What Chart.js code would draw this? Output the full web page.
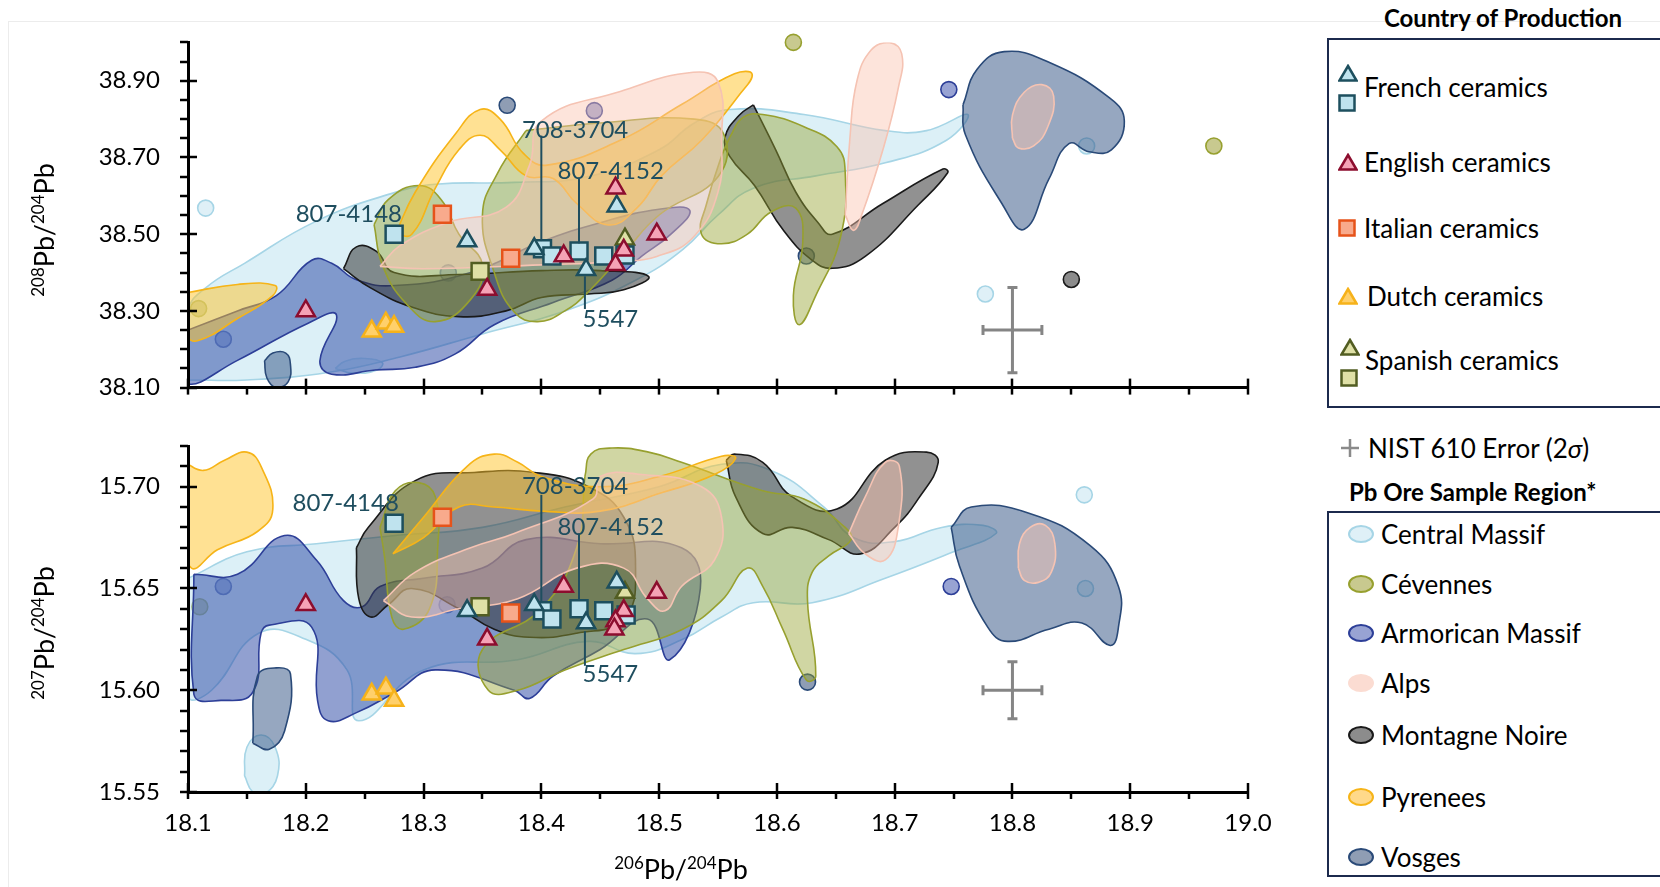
<!DOCTYPE html>
<html>
<head>
<meta charset="utf-8">
<script src="https://cdn.jsdelivr.net/npm/chart.js@4.4.0/dist/chart.umd.min.js"></script>
<style>
  body { margin: 0; width: 1660px; height: 887px; overflow: hidden; background: #fff; position: relative; font-family: Lato, sans-serif; color: #000; }
  .frame { position: absolute; left: 8px; top: 21px; width: 1700px; height: 900px; border-left: 1px solid #ececec; border-top: 1px solid #ececec; }
  canvas { position: absolute; left: 0; }
  .ytitle { position: absolute; transform: translate(-50%, -50%) rotate(-90deg); white-space: nowrap; font-size: 27px; }
  .xtitle { position: absolute; transform: translate(-50%, -50%); white-space: nowrap; font-size: 27px; }
  .sup { font-size: 17px; vertical-align: 10px; }
  .box { position: absolute; border: 2.5px solid #1c2a4d; width: 400px; }
  .lt { position: absolute; font-weight: bold; font-size: 24px; line-height: 28px; white-space: nowrap; }
  .li { position: absolute; font-size: 26px; line-height: 30px; white-space: nowrap; }
  .ic { position: absolute; }
</style>
</head>
<body>
<div class="frame"></div>
<canvas id="topChart" width="1300" height="430" style="top:0"></canvas>
<canvas id="bottomChart" width="1300" height="487" style="top:400px"></canvas>
<div class="ytitle" style="left:43px;top:230px"><span class="sup">208</span>Pb/<span class="sup">204</span>Pb</div>
<div class="ytitle" style="left:43px;top:633px"><span class="sup">207</span>Pb/<span class="sup">204</span>Pb</div>
<div class="xtitle" style="left:681px;top:868px"><span class="sup">206</span>Pb/<span class="sup">204</span>Pb</div>
<div id="legend"></div>
<script>
"use strict";

// ---- axis tick labels ----
const xLabels = ['18.1', '18.2', '18.3', '18.4', '18.5', '18.6', '18.7', '18.8', '18.9', '19.0'];
const topYLabels = ['38.10', '38.30', '38.50', '38.70', '38.90'];
const bottomYLabels = ['15.55', '15.60', '15.65', '15.70'];

// ---- ceramics, 206/204 vs 208/204 ----
const frenchTriTop = [[18.337, 38.482], [18.394, 38.462], [18.438, 38.407], [18.464, 38.573]];
const frenchSqTop = [[18.275, 38.50], [18.401, 38.462], [18.409, 38.443], [18.432, 38.456], [18.453, 38.443], [18.471, 38.446]];
const englishTop = [[18.20, 38.30], [18.354, 38.356], [18.419, 38.443], [18.463, 38.62], [18.47, 38.458], [18.463, 38.42], [18.498, 38.50]];
const italianTop = [[18.316, 38.552], [18.374, 38.437]];
const dutchTop = [[18.256, 38.247], [18.268, 38.268], [18.275, 38.259]];
const spanishTriTop = [[18.471, 38.487]];
const spanishSqTop = [[18.348, 38.403]];

// ---- ceramics, 206/204 vs 207/204 ----
const frenchTriBot = [[18.337, 15.639], [18.394, 15.642], [18.438, 15.633], [18.464, 15.653]];
const frenchSqBot = [[18.275, 15.682], [18.401, 15.639], [18.409, 15.635], [18.432, 15.640], [18.453, 15.639], [18.472, 15.637]];
const englishBot = [[18.20, 15.642], [18.354, 15.625], [18.419, 15.651], [18.47, 15.639], [18.463, 15.634], [18.462, 15.630], [18.498, 15.648]];
const italianBot = [[18.316, 15.685], [18.374, 15.638]];
const dutchBot = [[18.256, 15.598], [18.268, 15.601], [18.275, 15.595]];
const spanishTriBot = [[18.471, 15.648]];
const spanishSqBot = [[18.348, 15.641]];

// ---- single ore samples ----
const cmDotsTop = [[18.115, 38.568], [18.863, 38.73], [18.777, 38.344]];
const cevDotsTop = [[18.109, 38.306], [18.614, 39.0], [18.971, 38.73]];
const armDotsTop = [[18.130, 38.226], [18.746, 38.877], [18.445, 38.822], [18.321, 38.399]];
const vosDotsTop = [[18.371, 38.836], [18.625, 38.443]];
const mnDotsTop = [[18.85, 38.382]];
const cmDotsBot = [[18.861, 15.696], [18.862, 15.65]];
const cevDotsBot = [[18.11, 15.641]];
const armDotsBot = [[18.13, 15.651], [18.32, 15.642], [18.748, 15.651]];
const vosDotsBot = [[18.626, 15.604]];

// ---- ore fields (outline vertices), top panel ----
const topCM = [[18.10, 38.12], [18.10, 38.30], [18.115, 38.36], [18.148, 38.424], [18.209, 38.534], [18.276, 38.609], [18.31, 38.63], [18.377, 38.635], [18.44, 38.65], [18.50, 38.72], [18.53, 38.79], [18.56, 38.825], [18.623, 38.812], [18.692, 38.77], [18.727, 38.77], [18.762, 38.812], [18.744, 38.745], [18.692, 38.686], [18.633, 38.652], [18.58, 38.62], [18.55, 38.55], [18.52, 38.46], [18.48, 38.38], [18.42, 38.30], [18.35, 38.24], [18.28, 38.18], [18.22, 38.14], [18.15, 38.12]];
const topCMSmall = [[18.225, 38.15], [18.233, 38.168], [18.25, 38.176], [18.265, 38.165], [18.26, 38.145], [18.24, 38.138]];
const topArm = [[18.100, 38.25], [18.142, 38.30], [18.175, 38.34], [18.205, 38.432], [18.222, 38.424], [18.243, 38.381], [18.276, 38.366], [18.34, 38.40], [18.40, 38.48], [18.45, 38.53], [18.50, 38.565], [18.526, 38.562], [18.51, 38.50], [18.485, 38.442], [18.46, 38.38], [18.41, 38.322], [18.36, 38.264], [18.327, 38.188], [18.293, 38.153], [18.259, 38.146], [18.222, 38.135], [18.212, 38.17], [18.226, 38.29], [18.202, 38.268], [18.142, 38.171], [18.100, 38.11]];
const topVos = [[18.758, 38.837], [18.77, 38.93], [18.793, 38.976], [18.831, 38.948], [18.883, 38.854], [18.895, 38.795], [18.884, 38.72], [18.865, 38.715], [18.848, 38.736], [18.831, 38.644], [18.81, 38.513], [18.791, 38.58], [18.76, 38.76]];
const topVosSmall = [[18.165, 38.17], [18.172, 38.19], [18.183, 38.19], [18.187, 38.16], [18.185, 38.115], [18.175, 38.10], [18.167, 38.125]];
const topMNLeft = [[18.232, 38.41], [18.243, 38.467], [18.26, 38.455], [18.275, 38.40], [18.33, 38.395], [18.40, 38.405], [18.45, 38.405], [18.491, 38.39], [18.47, 38.355], [18.44, 38.344], [18.40, 38.335], [18.37, 38.30], [18.33, 38.285], [18.29, 38.31], [18.255, 38.36]];
const topMNRight = [[18.58, 38.837], [18.599, 38.72], [18.616, 38.61], [18.635, 38.53], [18.647, 38.50], [18.69, 38.58], [18.741, 38.67], [18.745, 38.66], [18.72, 38.576], [18.675, 38.442], [18.647, 38.411], [18.63, 38.432], [18.606, 38.508], [18.581, 38.627], [18.56, 38.703], [18.556, 38.753], [18.568, 38.81]];
const topCevLeft = [[18.258, 38.525], [18.27, 38.59], [18.296, 38.627], [18.315, 38.59], [18.33, 38.50], [18.35, 38.42], [18.34, 38.33], [18.31, 38.272], [18.285, 38.32], [18.265, 38.42]];
const topCevMid = [[18.387, 38.77], [18.45, 38.79], [18.53, 38.80], [18.555, 38.76], [18.55, 38.65], [18.50, 38.55], [18.47, 38.45], [18.44, 38.35], [18.42, 38.30], [18.397, 38.272], [18.377, 38.297], [18.36, 38.40], [18.35, 38.55], [18.363, 38.66]];
const topCevRight = [[18.56, 38.753], [18.571, 38.804], [18.588, 38.812], [18.623, 38.78], [18.651, 38.728], [18.658, 38.66], [18.654, 38.492], [18.633, 38.34], [18.619, 38.264], [18.614, 38.34], [18.622, 38.48], [18.616, 38.568], [18.595, 38.558], [18.575, 38.50], [18.553, 38.475], [18.536, 38.50], [18.54, 38.576], [18.553, 38.703]];
const topPyrLeft = [[18.10, 38.348], [18.142, 38.369], [18.174, 38.366], [18.172, 38.34], [18.142, 38.28], [18.108, 38.222], [18.098, 38.24], [18.097, 38.30]];
const topPyrBig = [[18.276, 38.50], [18.293, 38.61], [18.327, 38.761], [18.348, 38.825], [18.365, 38.80], [18.385, 38.71], [18.405, 38.68], [18.467, 38.745], [18.519, 38.838], [18.564, 38.918], [18.579, 38.917], [18.568, 38.863], [18.536, 38.745], [18.502, 38.652], [18.481, 38.568], [18.457, 38.524], [18.43, 38.58], [18.41, 38.645], [18.387, 38.652], [18.365, 38.72], [18.348, 38.758], [18.33, 38.72], [18.31, 38.62], [18.29, 38.50]];
const topAlpsBig = [[18.263, 38.416], [18.28, 38.47], [18.32, 38.53], [18.37, 38.57], [18.39, 38.68], [18.40, 38.795], [18.467, 38.872], [18.529, 38.922], [18.55, 38.897], [18.553, 38.745], [18.55, 38.61], [18.529, 38.492], [18.498, 38.442], [18.467, 38.429], [18.40, 38.42], [18.30, 38.41]];
const topAlpsTall = [[18.658, 38.55], [18.662, 38.75], [18.668, 38.90], [18.68, 38.98], [18.695, 39.0], [18.706, 38.97], [18.703, 38.88], [18.69, 38.72], [18.672, 38.55], [18.665, 38.51]];
const topAlpsSmall = [[18.80, 38.75], [18.80, 38.81], [18.81, 38.87], [18.825, 38.89], [18.835, 38.86], [18.83, 38.78], [18.818, 38.73], [18.805, 38.725]];

// ---- ore fields, bottom panel ----
const botCM = [[18.10, 15.655], [18.15, 15.668], [18.209, 15.672], [18.276, 15.676], [18.35, 15.68], [18.42, 15.69], [18.50, 15.70], [18.553, 15.711], [18.595, 15.708], [18.64, 15.69], [18.665, 15.675], [18.70, 15.673], [18.74, 15.68], [18.775, 15.681], [18.786, 15.677], [18.75, 15.668], [18.692, 15.655], [18.63, 15.643], [18.58, 15.643], [18.553, 15.636], [18.52, 15.625], [18.48, 15.618], [18.44, 15.624], [18.38, 15.615], [18.30, 15.61], [18.245, 15.585], [18.235, 15.61], [18.20, 15.625], [18.16, 15.628], [18.12, 15.60], [18.10, 15.597]];
const botCMSmall = [[18.148, 15.558], [18.15, 15.572], [18.162, 15.578], [18.174, 15.572], [18.176, 15.558], [18.165, 15.549], [18.155, 15.55]];
const botArm = [[18.105, 15.657], [18.142, 15.657], [18.182, 15.676], [18.209, 15.664], [18.232, 15.644], [18.248, 15.641], [18.263, 15.651], [18.30, 15.655], [18.35, 15.66], [18.387, 15.674], [18.45, 15.672], [18.519, 15.67], [18.535, 15.65], [18.509, 15.615], [18.49, 15.635], [18.45, 15.62], [18.41, 15.607], [18.39, 15.596], [18.377, 15.60], [18.31, 15.61], [18.276, 15.599], [18.243, 15.589], [18.219, 15.585], [18.21, 15.595], [18.205, 15.631], [18.169, 15.632], [18.162, 15.628], [18.155, 15.599], [18.128, 15.595], [18.105, 15.598]];
const botVosTall = [[18.155, 15.574], [18.159, 15.607], [18.175, 15.611], [18.187, 15.608], [18.182, 15.58], [18.169, 15.571]];
const botVosRight = [[18.748, 15.68], [18.765, 15.69], [18.814, 15.687], [18.866, 15.671], [18.89, 15.651], [18.89, 15.631], [18.883, 15.622], [18.859, 15.633], [18.831, 15.63], [18.796, 15.624], [18.779, 15.631], [18.755, 15.661]];
const botMN = [[18.243, 15.67], [18.253, 15.68], [18.293, 15.703], [18.343, 15.707], [18.394, 15.707], [18.44, 15.70], [18.47, 15.685], [18.48, 15.66], [18.47, 15.635], [18.43, 15.628], [18.39, 15.626], [18.36, 15.63], [18.33, 15.64], [18.29, 15.65], [18.27, 15.642], [18.255, 15.636], [18.245, 15.645]];
const botMNRight = [[18.557, 15.713], [18.564, 15.716], [18.588, 15.712], [18.613, 15.695], [18.651, 15.689], [18.692, 15.713], [18.727, 15.717], [18.737, 15.712], [18.72, 15.694], [18.70, 15.68], [18.671, 15.667], [18.644, 15.674], [18.613, 15.68], [18.588, 15.677], [18.565, 15.695]];
const botCevLeft = [[18.263, 15.68], [18.276, 15.698], [18.296, 15.702], [18.31, 15.695], [18.312, 15.67], [18.305, 15.64], [18.283, 15.63], [18.273, 15.636], [18.267, 15.665]];
const botCevMid = [[18.437, 15.705], [18.442, 15.716], [18.46, 15.719], [18.491, 15.717], [18.519, 15.712], [18.588, 15.698], [18.623, 15.694], [18.658, 15.68], [18.663, 15.674], [18.644, 15.666], [18.63, 15.658], [18.626, 15.644], [18.633, 15.607], [18.625, 15.605], [18.605, 15.63], [18.588, 15.651], [18.575, 15.66], [18.553, 15.644], [18.52, 15.63], [18.47, 15.62], [18.42, 15.61], [18.38, 15.60], [18.355, 15.60], [18.35, 15.62], [18.40, 15.64], [18.43, 15.67]];
const botPyrLeft = [[18.097, 15.712], [18.113, 15.708], [18.131, 15.713], [18.15, 15.717], [18.162, 15.71], [18.172, 15.689], [18.159, 15.678], [18.125, 15.669], [18.103, 15.66], [18.097, 15.68]];
const botPyrBand = [[18.274, 15.667], [18.30, 15.685], [18.337, 15.71], [18.36, 15.716], [18.38, 15.712], [18.40, 15.705], [18.45, 15.70], [18.50, 15.705], [18.553, 15.715], [18.565, 15.714], [18.547, 15.706], [18.502, 15.697], [18.45, 15.688], [18.40, 15.688], [18.36, 15.69], [18.33, 15.69], [18.30, 15.675]];
const botAlps = [[18.266, 15.644], [18.293, 15.658], [18.34, 15.67], [18.377, 15.677], [18.444, 15.694], [18.45, 15.705], [18.485, 15.706], [18.536, 15.70], [18.553, 15.685], [18.547, 15.664], [18.519, 15.651], [18.505, 15.639], [18.49, 15.645], [18.47, 15.66], [18.43, 15.66], [18.38, 15.645], [18.33, 15.64], [18.29, 15.636]];
const botAlpsRight = [[18.661, 15.677], [18.675, 15.695], [18.692, 15.712], [18.704, 15.71], [18.703, 15.68], [18.692, 15.664], [18.675, 15.667]];
const botAlpsSmall = [[18.805, 15.66], [18.806, 15.672], [18.815, 15.68], [18.828, 15.681], [18.836, 15.672], [18.833, 15.658], [18.822, 15.653], [18.81, 15.654]];

// NIST 610 error: x, y, ±x, ±y
const nistTop = [18.80, 38.25, 0.025, 0.111];
const nistBot = [18.80, 15.60, 0.025, 0.014];

// sample callouts: text, label x, label y, align, [line x, line y1, line y2]
const topNotes = [
    { text: '807-4148', x: 18.2817, y: 38.553, align: 'right' },
    { text: '708-3704', x: 18.3835, y: 38.771, align: 'left', line: [18.40, 38.757, 38.482] },
    { text: '807-4152', x: 18.4137, y: 38.665, align: 'left', line: [18.432, 38.647, 38.476] },
    { text: '5547', x: 18.435, y: 38.277, align: 'left', line: [18.437, 38.39, 38.305] }
];
const bottomNotes = [
    { text: '807-4148', x: 18.279, y: 15.692, align: 'right' },
    { text: '708-3704', x: 18.3835, y: 15.700, align: 'left', line: [18.40, 15.696, 15.643] },
    { text: '807-4152', x: 18.4137, y: 15.680, align: 'left', line: [18.432, 15.677, 15.644] },
    { text: '5547', x: 18.435, y: 15.608, align: 'left', line: [18.437, 15.629, 15.612] }
];

const countryNames = ['French ceramics', 'English ceramics', 'Italian ceramics', 'Dutch ceramics', 'Spanish ceramics'];
const regionNames = ['Central Massif', 'Cévennes', 'Armorican Massif', 'Alps', 'Montagne Noire', 'Pyrenees', 'Vosges'];

// colours
const C = {
    french: ['#bfe3ee', '#1d4f5e'], english: ['#f5a3b6', '#8c0d2e'], italian: ['#f8aa8c', '#e6531a'],
    dutch: ['#ffd06b', '#f6b21a'], spanish: ['#dfe0a6', '#525d22']
};
const R = {
    cm: ['rgba(185,225,240,0.5)', '#a6d5e6', '#dff0f7'],
    cev: ['rgba(150,165,50,0.45)', '#97a02f', '#c8c98f'],
    arm: ['rgba(45,72,165,0.52)', '#2d3f98', '#98a3d3'],
    alps: ['rgba(250,195,175,0.45)', '#f5c3b3', '#fbdcd2'],
    mn: ['rgba(45,45,45,0.52)', '#1a1a1a', '#8c8c8c'],
    pyr: ['rgba(255,195,40,0.5)', '#f6b418', '#ffd98a'],
    vos: ['rgba(45,80,130,0.5)', '#2a4a78', '#8f9db4']
};

const toXY = arr => arr.map(p => ({ x: p[0], y: p[1] }));

function field(pts, col, order) {
    const data = toXY(pts.concat([pts[0]]));
    return { data, showLine: true, fill: 'shape', tension: 0.45, backgroundColor: col[0], borderColor: col[1], borderWidth: 1.6, pointRadius: 0, order };
}
function dots(pts, col, order) {
    return { data: toXY(pts), pointStyle: 'circle', pointRadius: 8, backgroundColor: col[2], borderColor: col[1], borderWidth: 1.6, order, clip: false };
}
function marks(pts, col, style, order) {
    return { data: toXY(pts), pointStyle: style, pointRadius: style === 'rect' ? 12 : 10.5, backgroundColor: col[0], borderColor: col[1], borderWidth: 2.5, order };
}

const topSets = [
    dots(cmDotsTop, R.cm, 100), dots(cevDotsTop, R.cev, 100), dots(armDotsTop, R.arm, 100), dots(vosDotsTop, R.vos, 100), dots(mnDotsTop, R.mn, 100),
    field(topCM, R.cm, 90), field(topCMSmall, R.cm, 90),
    field(topArm, R.arm, 80),
    field(topVos, R.vos, 70), field(topVosSmall, R.vos, 70),
    field(topMNLeft, R.mn, 60), field(topMNRight, R.mn, 60),
    field(topCevLeft, R.cev, 50), field(topCevMid, R.cev, 50), field(topCevRight, R.cev, 50),
    field(topPyrLeft, R.pyr, 40), field(topPyrBig, R.pyr, 40),
    field(topAlpsBig, R.alps, 30), field(topAlpsTall, R.alps, 30), field(topAlpsSmall, R.alps, 30),
    marks(dutchTop, C.dutch, 'triangle', 5), marks(italianTop, C.italian, 'rect', 4),
    marks(spanishSqTop, C.spanish, 'rect', 4), marks(spanishTriTop, C.spanish, 'triangle', 3),
    marks(frenchSqTop, C.french, 'rect', 2), marks(frenchTriTop, C.french, 'triangle', 1),
    marks(englishTop, C.english, 'triangle', 0)
];

const bottomSets = [
    dots(cmDotsBot, R.cm, 100), dots(cevDotsBot, R.cev, 100), dots(armDotsBot, R.arm, 100), dots(vosDotsBot, R.vos, 100),
    field(botCM, R.cm, 90), field(botCMSmall, R.cm, 90),
    field(botArm, R.arm, 80),
    field(botVosTall, R.vos, 70), field(botVosRight, R.vos, 70),
    field(botMN, R.mn, 60), field(botMNRight, R.mn, 60),
    field(botCevLeft, R.cev, 50), field(botCevMid, R.cev, 50),
    field(botPyrLeft, R.pyr, 40), field(botPyrBand, R.pyr, 40),
    field(botAlps, R.alps, 30), field(botAlpsRight, R.alps, 30), field(botAlpsSmall, R.alps, 30),
    marks(dutchBot, C.dutch, 'triangle', 5), marks(italianBot, C.italian, 'rect', 4),
    marks(spanishSqBot, C.spanish, 'rect', 4), marks(spanishTriBot, C.spanish, 'triangle', 3),
    marks(frenchSqBot, C.french, 'rect', 2), marks(frenchTriBot, C.french, 'triangle', 1),
    marks(englishBot, C.english, 'triangle', 0)
];

function labelFor(v, list, digits) {
    const s = v.toFixed(digits);
    return (Math.abs(parseFloat(s) - v) < 1e-6 && list.includes(s)) ? s : '';
}
function isMajor(v, base, step) {
    const r = (v - base) / step;
    return Math.abs(r - Math.round(r)) < 1e-4;
}

// major ticks cross the axis, minor ticks sit outside
const axisTicks = {
    id: 'axisTicks',
    afterDraw(chart, args, o) {
        const { ctx, chartArea: a } = chart;
        const xs = chart.scales.x, ys = chart.scales.y;
        ctx.save();
        ctx.strokeStyle = '#000';
        ctx.lineWidth = 2.5;
        xs.ticks.forEach(t => {
            const px = Math.round(xs.getPixelForValue(t.value));
            const major = isMajor(t.value, o.xBase, o.xStep);
            ctx.beginPath();
            ctx.moveTo(px, a.bottom + 7);
            ctx.lineTo(px, major ? a.bottom - 9 : a.bottom);
            ctx.stroke();
        });
        ys.ticks.forEach(t => {
            const py = Math.round(ys.getPixelForValue(t.value));
            const major = isMajor(t.value, o.yBase, o.yStep);
            ctx.beginPath();
            ctx.moveTo(a.left - 8, py);
            ctx.lineTo(major ? a.left + 9 : a.left, py);
            ctx.stroke();
        });
        ctx.restore();
    }
};

const sampleNotes = {
    id: 'sampleNotes',
    afterDatasetsDraw(chart, args, o) {
        const { ctx } = chart;
        const xs = chart.scales.x, ys = chart.scales.y;
        ctx.save();
        ctx.font = '24px Lato, sans-serif';
        ctx.fillStyle = '#1f4e5f';
        ctx.strokeStyle = '#1f4e5f';
        ctx.lineWidth = 2;
        o.notes.forEach(n => {
            if (n.line) {
                const lx = xs.getPixelForValue(n.line[0]);
                ctx.beginPath();
                ctx.moveTo(lx, ys.getPixelForValue(n.line[1]));
                ctx.lineTo(lx, ys.getPixelForValue(n.line[2]));
                ctx.stroke();
            }
            ctx.textAlign = n.align;
            ctx.textBaseline = 'middle';
            ctx.fillText(n.text, xs.getPixelForValue(n.x), ys.getPixelForValue(n.y));
        });
        ctx.restore();
    }
};

const nistBar = {
    id: 'nistBar',
    afterDatasetsDraw(chart, args, o) {
        const { ctx } = chart;
        const xs = chart.scales.x, ys = chart.scales.y;
        const [x, y, dx, dy] = o.bar;
        const cx = xs.getPixelForValue(x), cy = ys.getPixelForValue(y);
        const x1 = xs.getPixelForValue(x - dx), x2 = xs.getPixelForValue(x + dx);
        const y1 = ys.getPixelForValue(y + dy), y2 = ys.getPixelForValue(y - dy);
        ctx.save();
        ctx.strokeStyle = '#858585';
        ctx.lineWidth = 3;
        ctx.beginPath();
        ctx.moveTo(x1, cy); ctx.lineTo(x2, cy);
        ctx.moveTo(cx, y1); ctx.lineTo(cx, y2);
        ctx.moveTo(x1, cy - 5); ctx.lineTo(x1, cy + 5);
        ctx.moveTo(x2, cy - 5); ctx.lineTo(x2, cy + 5);
        ctx.moveTo(cx - 5, y1); ctx.lineTo(cx + 5, y1);
        ctx.moveTo(cx - 5, y2); ctx.lineTo(cx + 5, y2);
        ctx.stroke();
        ctx.restore();
    }
};

Chart.defaults.font.family = 'Lato, sans-serif';
Chart.defaults.color = '#000';

function panel(canvasId, datasets, o) {
    return new Chart(document.getElementById(canvasId), {
        type: 'scatter',
        data: { datasets },
        options: {
            responsive: false, animation: false,
            layout: { padding: { top: o.padTop, right: 52, left: 0, bottom: 0 } },
            plugins: {
                legend: { display: false }, tooltip: { enabled: false },
                axisTicks: { xBase: 18.1, xStep: 0.1, yBase: o.yBase, yStep: o.yStep },
                sampleNotes: { notes: o.notes },
                nistBar: { bar: o.nist }
            },
            scales: {
                x: {
                    type: 'linear', min: 18.1, max: 19.0,
                    ticks: { stepSize: 0.05, autoSkip: false, maxRotation: 0, display: o.showX, padding: 17, font: { size: 24 },
                        callback: v => labelFor(v, xLabels, 1) },
                    grid: { display: false, drawTicks: false },
                    border: { color: '#000', width: 3, z: 1 },
                    afterFit: s => { s.height = o.xHeight; }
                },
                y: {
                    type: 'linear', min: o.yMin, max: o.yMax,
                    ticks: { stepSize: o.yMinor, autoSkip: false, padding: 28, font: { size: 24 },
                        callback: v => labelFor(v, o.yLabels, 2) },
                    grid: { display: false, drawTicks: false },
                    border: { color: '#000', width: 3, z: 1 },
                    afterFit: s => { s.width = 188; }
                }
            }
        },
        plugins: [axisTicks, sampleNotes, nistBar]
    });
}

panel('topChart', topSets, { padTop: 33, xHeight: 42, showX: false, yMin: 38.1, yMax: 39.0, yMinor: 0.05, yBase: 38.1, yStep: 0.2, yLabels: topYLabels, notes: topNotes, nist: nistTop });
panel('bottomChart', bottomSets, { padTop: 46, xHeight: 95, showX: true, yMin: 15.55, yMax: 15.72, yMinor: 0.01, yBase: 15.55, yStep: 0.05, yLabels: bottomYLabels, notes: bottomNotes, nist: nistBot });

// ---- legend (HTML) ----
const tri = (f, s) => `<svg width="20" height="18"><polygon points="10,2 18.5,16.5 1.5,16.5" fill="${f}" stroke="${s}" stroke-width="2.5"/></svg>`;
const sq = (f, s) => `<svg width="18" height="18"><rect x="1.5" y="1.5" width="15" height="15" fill="${f}" stroke="${s}" stroke-width="2.5"/></svg>`;
const ell = (f, s) => `<svg width="28" height="20"><ellipse cx="14" cy="10" rx="12" ry="8" fill="${f}" stroke="${s}" stroke-width="2"/></svg>`;

let html = '';
html += `<div class="lt" style="left:1363px;top:4px;width:280px;text-align:center">Country of Production</div>`;
html += `<div class="box" style="left:1327px;top:38px;height:366px"></div>`;
const countryRows = [
    { y: 87, tx: 1364, icons: [[tri, C.french, 1347, 73], [sq, C.french, 1347, 103]] },
    { y: 162, tx: 1364, icons: [[tri, C.english, 1347, 162]] },
    { y: 228, tx: 1364, icons: [[sq, C.italian, 1347, 228]] },
    { y: 296, tx: 1367, icons: [[tri, C.dutch, 1347, 296]] },
    { y: 360, tx: 1365, icons: [[tri, C.spanish, 1349, 347], [sq, C.spanish, 1349, 378]] }
];
countryRows.forEach((r, i) => {
    r.icons.forEach(([fn, col, cx, cy]) => {
        html += `<div class="ic" style="left:${cx - 9}px;top:${cy - 9}px">${fn(col[0], col[1])}</div>`;
    });
    html += `<div class="li" style="left:${r.tx}px;top:${r.y - 15}px">${countryNames[i]}</div>`;
});
html += `<div class="ic" style="left:1341px;top:439px"><svg width="18" height="18"><path d="M9 0V18M0 9H18" stroke="#8a8a8a" stroke-width="2.5"/></svg></div>`;
html += `<div class="li" style="left:1368px;top:433px">NIST 610 Error (2<i>σ</i>)</div>`;
html += `<div class="lt" style="left:1349px;top:478px">Pb Ore Sample Region*</div>`;
html += `<div class="box" style="left:1327px;top:511px;height:362px"></div>`;
const regionKeys = ['cm', 'cev', 'arm', 'alps', 'mn', 'pyr', 'vos'];
const regionY = [534, 584, 633, 683, 735, 797, 857];
regionNames.forEach((name, i) => {
    const col = R[regionKeys[i]];
    const stroke = regionKeys[i] === 'alps' ? '#fbdcd2' : col[1];
    html += `<div class="ic" style="left:1347px;top:${regionY[i] - 10}px">${ell(col[2], stroke)}</div>`;
    html += `<div class="li" style="left:1381px;top:${regionY[i] - 15}px">${name}</div>`;
});
document.getElementById('legend').innerHTML = html;
</script>
</body>
</html>
